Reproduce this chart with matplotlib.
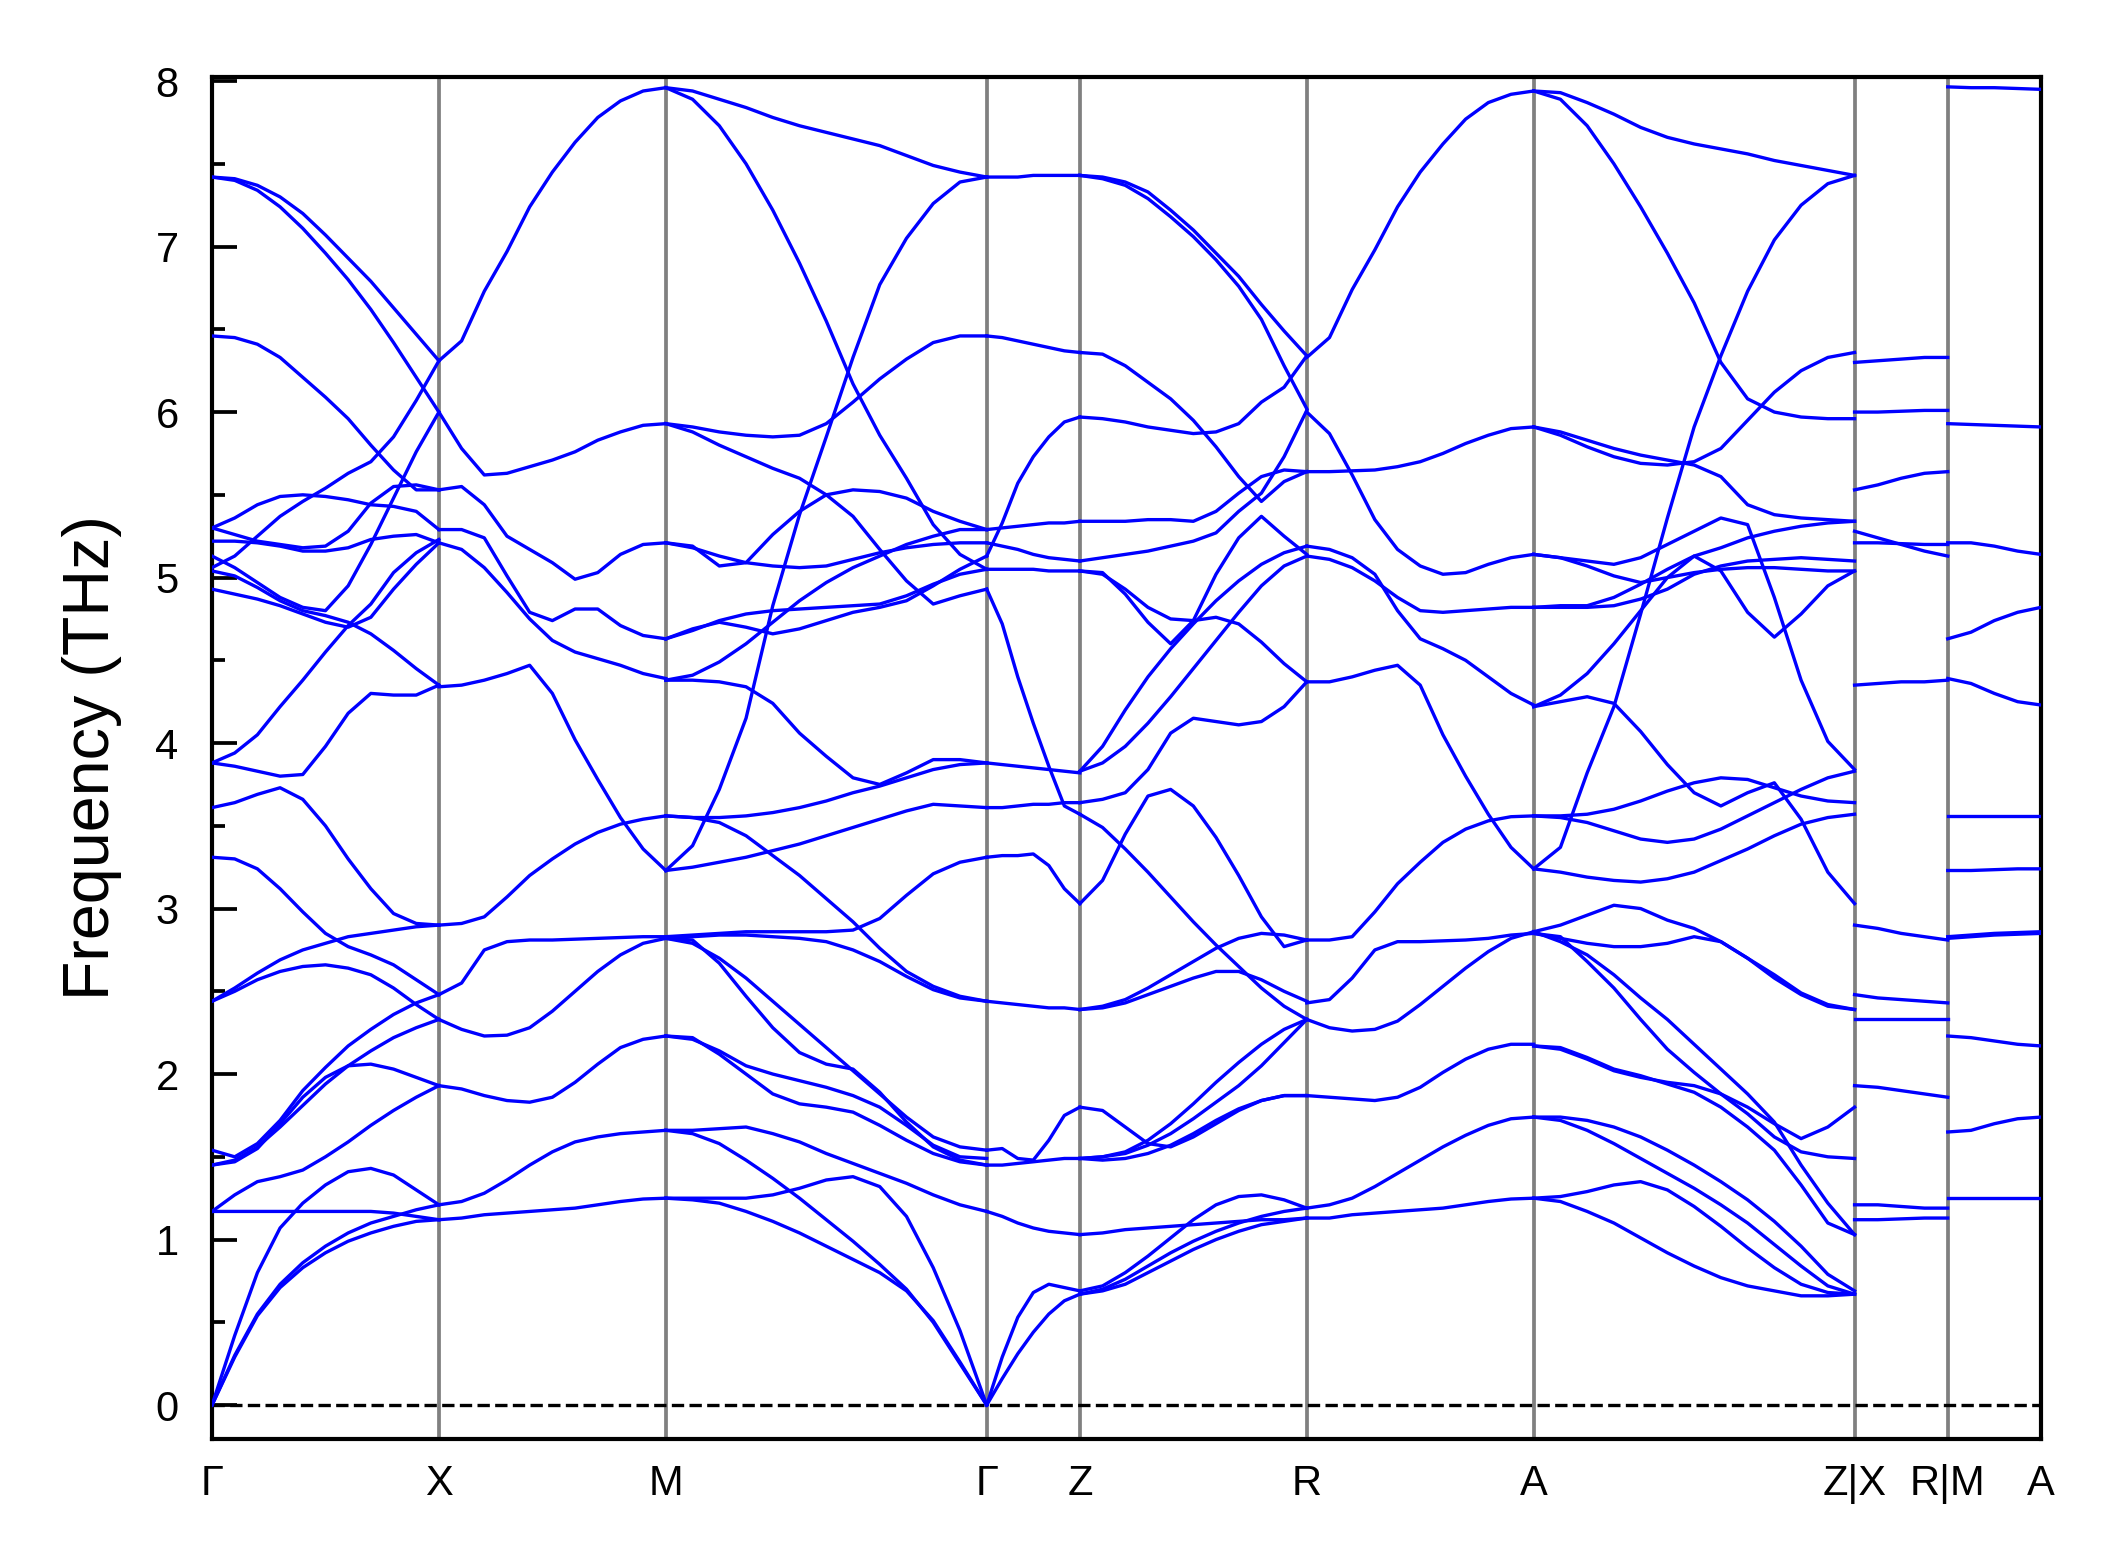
import numpy as np
import matplotlib.pyplot as plt

plt.rcParams['font.family'] = ['Liberation Sans', 'DejaVu Sans']

# high-symmetry path: labels and segment lengths (2*pi/a units)
tick_labels = ['Γ', 'X', 'M', 'Γ', 'Z', 'R', 'A', 'Z|X', 'R|M', 'A']
seg_lengths = [0.5, 0.5, 0.7071, 0.2053, 0.5, 0.5, 0.7071, 0.2053, 0.2053]

# frequencies (THz), each band sampled evenly along its segment
gx_bands = [
    [7.42, 7.41, 7.37, 7.30, 7.20, 7.07, 6.93, 6.79, 6.63, 6.47, 6.31],
    [7.42, 7.40, 7.34, 7.24, 7.11, 6.96, 6.80, 6.62, 6.42, 6.21, 6.00],
    [6.46, 6.45, 6.41, 6.33, 6.21, 6.09, 5.96, 5.80, 5.65, 5.53, 5.53],
    [5.06, 5.13, 5.25, 5.37, 5.46, 5.54, 5.63, 5.70, 5.85, 6.07, 6.31],
    [5.13, 5.06, 4.97, 4.88, 4.82, 4.80, 4.95, 5.20, 5.48, 5.76, 6.00],
    [5.30, 5.36, 5.44, 5.49, 5.50, 5.49, 5.47, 5.44, 5.43, 5.40, 5.29],
    [5.30, 5.26, 5.22, 5.20, 5.18, 5.19, 5.28, 5.45, 5.55, 5.56, 5.53],
    [5.22, 5.22, 5.21, 5.19, 5.16, 5.16, 5.18, 5.23, 5.25, 5.26, 5.21],
    [5.04, 5.01, 4.94, 4.86, 4.80, 4.77, 4.73, 4.66, 4.56, 4.45, 4.35],
    [4.93, 4.90, 4.87, 4.83, 4.78, 4.73, 4.70, 4.76, 4.93, 5.08, 5.21],
    [3.88, 3.94, 4.05, 4.22, 4.38, 4.55, 4.71, 4.84, 5.03, 5.15, 5.23],
    [3.88, 3.86, 3.83, 3.80, 3.81, 3.98, 4.18, 4.30, 4.29, 4.29, 4.35],
    [3.61, 3.64, 3.69, 3.73, 3.66, 3.50, 3.30, 3.12, 2.97, 2.91, 2.90],
    [3.31, 3.30, 3.24, 3.12, 2.98, 2.85, 2.77, 2.72, 2.66, 2.57, 2.48],
    [2.44, 2.52, 2.61, 2.69, 2.75, 2.79, 2.83, 2.85, 2.87, 2.89, 2.90],
    [2.44, 2.50, 2.57, 2.62, 2.65, 2.66, 2.64, 2.60, 2.52, 2.42, 2.33],
    [1.54, 1.50, 1.58, 1.72, 1.90, 2.04, 2.17, 2.27, 2.36, 2.43, 2.48],
    [1.45, 1.47, 1.55, 1.70, 1.86, 1.98, 2.05, 2.06, 2.03, 1.98, 1.93],
    [1.45, 1.48, 1.56, 1.68, 1.81, 1.94, 2.05, 2.14, 2.22, 2.28, 2.33],
    [1.17, 1.27, 1.35, 1.38, 1.42, 1.50, 1.59, 1.69, 1.78, 1.86, 1.93],
    [0.00, 0.42, 0.80, 1.07, 1.22, 1.33, 1.41, 1.43, 1.39, 1.30, 1.21],
    [1.17, 1.17, 1.17, 1.17, 1.17, 1.17, 1.17, 1.17, 1.16, 1.14, 1.12],
    [0.00, 0.30, 0.55, 0.73, 0.86, 0.96, 1.04, 1.10, 1.14, 1.18, 1.21],
    [0.00, 0.29, 0.54, 0.71, 0.83, 0.92, 0.99, 1.04, 1.08, 1.11, 1.12],
]

xm_bands = [
    [6.31, 6.43, 6.73, 6.97, 7.24, 7.45, 7.63, 7.78, 7.88, 7.94, 7.96],
    [6.00, 5.78, 5.62, 5.63, 5.67, 5.71, 5.76, 5.83, 5.88, 5.92, 5.93],
    [5.53, 5.55, 5.44, 5.25, 5.17, 5.09, 4.99, 5.03, 5.14, 5.20, 5.21],
    [5.29, 5.29, 5.24, 5.01, 4.79, 4.74, 4.81, 4.81, 4.71, 4.65, 4.63],
    [5.21, 5.17, 5.06, 4.91, 4.75, 4.62, 4.55, 4.51, 4.47, 4.42, 4.39],
    [4.34, 4.35, 4.38, 4.42, 4.47, 4.30, 4.02, 3.78, 3.55, 3.36, 3.23],
    [2.90, 2.91, 2.95, 3.07, 3.20, 3.30, 3.39, 3.46, 3.51, 3.54, 3.56],
    [2.48, 2.55, 2.75, 2.80, 2.81, 2.81, 2.815, 2.82, 2.825, 2.83, 2.83],
    [2.33, 2.27, 2.23, 2.235, 2.28, 2.38, 2.50, 2.62, 2.72, 2.79, 2.82],
    [1.93, 1.91, 1.87, 1.84, 1.83, 1.86, 1.95, 2.06, 2.16, 2.21, 2.23],
    [1.21, 1.23, 1.28, 1.36, 1.45, 1.53, 1.59, 1.62, 1.64, 1.65, 1.66],
    [1.12, 1.13, 1.15, 1.16, 1.17, 1.18, 1.19, 1.21, 1.23, 1.245, 1.25],
]

mg_bands = [
    [7.96, 7.94, 7.89, 7.84, 7.78, 7.73, 7.69, 7.65, 7.61, 7.55, 7.49, 7.45, 7.42],
    [7.96, 7.89, 7.73, 7.50, 7.22, 6.90, 6.55, 6.17, 5.86, 5.60, 5.32, 5.14, 5.05],
    [3.23, 3.38, 3.72, 4.15, 4.83, 5.38, 5.85, 6.33, 6.77, 7.05, 7.26, 7.39, 7.42],
    [5.93, 5.91, 5.88, 5.86, 5.85, 5.86, 5.93, 6.06, 6.20, 6.32, 6.42, 6.46, 6.46],
    [5.93, 5.88, 5.80, 5.73, 5.66, 5.60, 5.50, 5.37, 5.17, 4.98, 4.84, 4.89, 4.93],
    [5.21, 5.19, 5.07, 5.09, 5.26, 5.40, 5.50, 5.53, 5.52, 5.48, 5.40, 5.34, 5.29],
    [5.21, 5.18, 5.13, 5.09, 5.07, 5.06, 5.07, 5.11, 5.15, 5.18, 5.20, 5.21, 5.21],
    [4.38, 4.41, 4.49, 4.60, 4.73, 4.86, 4.97, 5.06, 5.13, 5.20, 5.25, 5.29, 5.29],
    [4.63, 4.69, 4.73, 4.70, 4.66, 4.69, 4.74, 4.79, 4.82, 4.86, 4.95, 5.05, 5.13],
    [4.63, 4.68, 4.74, 4.78, 4.80, 4.81, 4.82, 4.83, 4.84, 4.89, 4.96, 5.02, 5.05],
    [4.38, 4.38, 4.37, 4.34, 4.24, 4.06, 3.92, 3.79, 3.75, 3.82, 3.90, 3.90, 3.88],
    [3.56, 3.55, 3.55, 3.56, 3.58, 3.61, 3.65, 3.70, 3.74, 3.79, 3.84, 3.87, 3.88],
    [3.23, 3.25, 3.28, 3.31, 3.35, 3.39, 3.44, 3.49, 3.54, 3.59, 3.63, 3.62, 3.61],
    [3.56, 3.55, 3.52, 3.44, 3.32, 3.20, 3.06, 2.92, 2.76, 2.62, 2.53, 2.47, 2.44],
    [2.83, 2.84, 2.85, 2.86, 2.86, 2.86, 2.86, 2.87, 2.94, 3.08, 3.21, 3.28, 3.31],
    [2.82, 2.83, 2.84, 2.84, 2.83, 2.82, 2.80, 2.75, 2.68, 2.59, 2.51, 2.46, 2.44],
    [2.82, 2.81, 2.67, 2.47, 2.28, 2.13, 2.06, 2.03, 1.89, 1.71, 1.56, 1.48, 1.45],
    [2.82, 2.79, 2.70, 2.58, 2.44, 2.30, 2.16, 2.02, 1.88, 1.74, 1.62, 1.56, 1.54],
    [2.23, 2.22, 2.12, 2.00, 1.88, 1.82, 1.80, 1.77, 1.69, 1.60, 1.52, 1.47, 1.45],
    [2.23, 2.21, 2.14, 2.05, 2.00, 1.96, 1.92, 1.87, 1.80, 1.69, 1.57, 1.50, 1.49],
    [1.66, 1.66, 1.67, 1.68, 1.64, 1.59, 1.52, 1.46, 1.40, 1.34, 1.27, 1.21, 1.17],
    [1.66, 1.64, 1.58, 1.48, 1.37, 1.25, 1.12, 0.99, 0.85, 0.70, 0.50, 0.25, 0.00],
    [1.25, 1.25, 1.25, 1.25, 1.27, 1.31, 1.36, 1.38, 1.32, 1.14, 0.83, 0.45, 0.00],
    [1.25, 1.24, 1.22, 1.17, 1.11, 1.04, 0.96, 0.88, 0.80, 0.69, 0.51, 0.26, 0.00],
]

gz_bands = [
    [7.42, 7.42, 7.42, 7.43, 7.43, 7.43, 7.43],
    [6.46, 6.45, 6.43, 6.41, 6.39, 6.37, 6.36],
    [5.13, 5.33, 5.57, 5.73, 5.85, 5.94, 5.97],
    [5.29, 5.30, 5.31, 5.32, 5.33, 5.33, 5.34],
    [5.21, 5.19, 5.17, 5.14, 5.12, 5.11, 5.10],
    [5.05, 5.05, 5.05, 5.05, 5.04, 5.04, 5.04],
    [4.93, 4.72, 4.40, 4.12, 3.86, 3.62, 3.57],
    [3.88, 3.87, 3.86, 3.85, 3.84, 3.83, 3.82],
    [3.61, 3.61, 3.62, 3.63, 3.63, 3.64, 3.64],
    [3.31, 3.32, 3.32, 3.33, 3.26, 3.12, 3.03],
    [2.44, 2.43, 2.42, 2.41, 2.40, 2.40, 2.39],
    [1.54, 1.55, 1.49, 1.48, 1.60, 1.75, 1.80],
    [1.45, 1.45, 1.46, 1.47, 1.48, 1.49, 1.49],
    [1.17, 1.14, 1.10, 1.07, 1.05, 1.04, 1.03],
    [0.00, 0.29, 0.53, 0.68, 0.73, 0.71, 0.69],
    [0.00, 0.16, 0.31, 0.44, 0.55, 0.63, 0.67],
]

zr_bands = [
    [7.43, 7.42, 7.39, 7.33, 7.22, 7.10, 6.96, 6.82, 6.65, 6.49, 6.34],
    [7.43, 7.41, 7.37, 7.29, 7.18, 7.06, 6.92, 6.76, 6.56, 6.28, 6.02],
    [6.36, 6.35, 6.28, 6.18, 6.08, 5.95, 5.79, 5.61, 5.46, 5.58, 5.64],
    [5.97, 5.96, 5.94, 5.91, 5.89, 5.87, 5.88, 5.93, 6.06, 6.15, 6.34],
    [5.34, 5.34, 5.34, 5.35, 5.35, 5.34, 5.40, 5.51, 5.61, 5.65, 5.64],
    [5.04, 5.03, 4.90, 4.73, 4.60, 4.74, 5.02, 5.24, 5.37, 5.25, 5.14],
    [5.04, 5.02, 4.93, 4.82, 4.75, 4.74, 4.76, 4.72, 4.61, 4.48, 4.37],
    [5.10, 5.12, 5.14, 5.16, 5.19, 5.22, 5.27, 5.40, 5.51, 5.73, 6.01],
    [3.83, 3.98, 4.20, 4.40, 4.57, 4.72, 4.86, 4.98, 5.08, 5.15, 5.19],
    [3.83, 3.88, 3.98, 4.12, 4.28, 4.45, 4.62, 4.79, 4.95, 5.07, 5.13],
    [3.64, 3.66, 3.70, 3.84, 4.06, 4.15, 4.13, 4.11, 4.13, 4.22, 4.37],
    [3.03, 3.17, 3.45, 3.68, 3.72, 3.62, 3.43, 3.20, 2.95, 2.77, 2.81],
    [3.57, 3.49, 3.36, 3.22, 3.07, 2.92, 2.78, 2.65, 2.52, 2.41, 2.33],
    [2.39, 2.40, 2.43, 2.48, 2.53, 2.58, 2.62, 2.62, 2.57, 2.50, 2.44],
    [2.39, 2.41, 2.45, 2.52, 2.60, 2.68, 2.76, 2.82, 2.85, 2.84, 2.81],
    [1.80, 1.78, 1.68, 1.58, 1.56, 1.62, 1.70, 1.78, 1.84, 1.87, 1.87],
    [1.49, 1.50, 1.53, 1.60, 1.70, 1.82, 1.95, 2.07, 2.18, 2.27, 2.33],
    [1.49, 1.50, 1.52, 1.57, 1.64, 1.73, 1.83, 1.93, 2.05, 2.19, 2.33],
    [1.49, 1.48, 1.49, 1.52, 1.57, 1.64, 1.72, 1.79, 1.84, 1.87, 1.87],
    [1.03, 1.04, 1.06, 1.07, 1.08, 1.09, 1.10, 1.11, 1.12, 1.12, 1.13],
    [0.69, 0.72, 0.80, 0.90, 1.01, 1.12, 1.21, 1.26, 1.27, 1.24, 1.19],
    [0.67, 0.69, 0.73, 0.80, 0.87, 0.94, 1.00, 1.05, 1.09, 1.11, 1.13],
    [0.67, 0.70, 0.76, 0.84, 0.92, 0.99, 1.05, 1.10, 1.14, 1.17, 1.19],
]

ra_bands = [
    [6.33, 6.45, 6.74, 6.98, 7.24, 7.45, 7.62, 7.77, 7.87, 7.92, 7.94],
    [6.00, 5.87, 5.62, 5.35, 5.17, 5.07, 5.02, 5.03, 5.08, 5.12, 5.14],
    [5.64, 5.64, 5.645, 5.65, 5.67, 5.70, 5.75, 5.81, 5.86, 5.90, 5.91],
    [5.19, 5.17, 5.12, 5.02, 4.80, 4.63, 4.57, 4.50, 4.40, 4.30, 4.23],
    [5.13, 5.11, 5.06, 4.98, 4.88, 4.80, 4.79, 4.80, 4.81, 4.82, 4.82],
    [4.37, 4.37, 4.40, 4.44, 4.47, 4.35, 4.05, 3.80, 3.57, 3.37, 3.24],
    [2.81, 2.81, 2.83, 2.98, 3.15, 3.28, 3.40, 3.48, 3.53, 3.555, 3.56],
    [2.43, 2.45, 2.58, 2.75, 2.80, 2.80, 2.805, 2.81, 2.82, 2.84, 2.85],
    [2.33, 2.28, 2.26, 2.27, 2.32, 2.42, 2.53, 2.64, 2.74, 2.82, 2.86],
    [1.87, 1.86, 1.85, 1.84, 1.86, 1.92, 2.01, 2.09, 2.15, 2.18, 2.18],
    [1.19, 1.21, 1.25, 1.32, 1.40, 1.48, 1.56, 1.63, 1.69, 1.73, 1.74],
    [1.13, 1.13, 1.15, 1.16, 1.17, 1.18, 1.19, 1.21, 1.23, 1.245, 1.25],
]

az_bands = [
    [7.94, 7.93, 7.87, 7.80, 7.72, 7.66, 7.62, 7.59, 7.56, 7.52, 7.49, 7.46, 7.43],
    [7.94, 7.89, 7.73, 7.50, 7.24, 6.96, 6.66, 6.30, 6.08, 6.00, 5.97, 5.96, 5.96],
    [3.24, 3.37, 3.82, 4.22, 4.78, 5.36, 5.91, 6.34, 6.73, 7.04, 7.25, 7.38, 7.43],
    [5.91, 5.86, 5.79, 5.73, 5.69, 5.68, 5.70, 5.78, 5.95, 6.12, 6.25, 6.33, 6.36],
    [5.91, 5.88, 5.83, 5.78, 5.74, 5.71, 5.68, 5.61, 5.44, 5.38, 5.36, 5.35, 5.34],
    [5.14, 5.12, 5.10, 5.08, 5.12, 5.20, 5.28, 5.36, 5.32, 4.88, 4.38, 4.01, 3.84],
    [5.14, 5.12, 5.07, 5.01, 4.97, 5.00, 5.03, 5.05, 5.06, 5.06, 5.05, 5.04, 5.04],
    [4.82, 4.83, 4.83, 4.88, 4.96, 5.05, 5.13, 5.18, 5.24, 5.28, 5.31, 5.33, 5.34],
    [4.82, 4.82, 4.82, 4.83, 4.87, 4.93, 5.02, 5.07, 5.10, 5.11, 5.12, 5.11, 5.10],
    [4.22, 4.29, 4.42, 4.60, 4.80, 5.00, 5.13, 5.04, 4.79, 4.64, 4.78, 4.95, 5.04],
    [4.22, 4.25, 4.28, 4.24, 4.07, 3.87, 3.70, 3.62, 3.70, 3.76, 3.54, 3.22, 3.03],
    [3.56, 3.55, 3.52, 3.47, 3.42, 3.40, 3.42, 3.48, 3.56, 3.64, 3.72, 3.79, 3.83],
    [3.56, 3.56, 3.57, 3.60, 3.65, 3.71, 3.76, 3.79, 3.78, 3.73, 3.68, 3.65, 3.64],
    [3.24, 3.22, 3.19, 3.17, 3.16, 3.18, 3.22, 3.29, 3.36, 3.44, 3.51, 3.55, 3.57],
    [2.86, 2.90, 2.96, 3.02, 3.00, 2.93, 2.88, 2.80, 2.70, 2.60, 2.49, 2.42, 2.39],
    [2.85, 2.82, 2.79, 2.77, 2.77, 2.79, 2.83, 2.80, 2.70, 2.58, 2.48, 2.41, 2.39],
    [2.86, 2.80, 2.72, 2.60, 2.46, 2.33, 2.18, 2.03, 1.88, 1.71, 1.45, 1.22, 1.03],
    [2.85, 2.83, 2.68, 2.52, 2.33, 2.15, 2.01, 1.88, 1.76, 1.62, 1.53, 1.50, 1.49],
    [2.17, 2.16, 2.10, 2.03, 1.99, 1.94, 1.89, 1.80, 1.68, 1.54, 1.33, 1.10, 1.03],
    [2.17, 2.15, 2.09, 2.02, 1.98, 1.95, 1.93, 1.88, 1.80, 1.70, 1.61, 1.68, 1.80],
    [1.74, 1.74, 1.72, 1.68, 1.62, 1.54, 1.45, 1.35, 1.24, 1.11, 0.96, 0.79, 0.69],
    [1.74, 1.72, 1.66, 1.58, 1.49, 1.40, 1.31, 1.21, 1.10, 0.97, 0.84, 0.72, 0.67],
    [1.25, 1.26, 1.29, 1.33, 1.35, 1.30, 1.20, 1.08, 0.95, 0.83, 0.73, 0.68, 0.67],
    [1.25, 1.23, 1.17, 1.10, 1.01, 0.92, 0.84, 0.77, 0.72, 0.69, 0.66, 0.66, 0.67],
]

xr_bands = [
    [6.30, 6.31, 6.32, 6.33, 6.33],
    [6.00, 6.00, 6.005, 6.01, 6.01],
    [5.53, 5.56, 5.60, 5.63, 5.64],
    [5.28, 5.24, 5.20, 5.16, 5.13],
    [5.21, 5.21, 5.205, 5.20, 5.20],
    [4.35, 4.36, 4.37, 4.37, 4.38],
    [2.90, 2.88, 2.85, 2.83, 2.81],
    [2.48, 2.46, 2.45, 2.44, 2.43],
    [2.33, 2.33, 2.33, 2.33, 2.33],
    [1.93, 1.92, 1.90, 1.88, 1.86],
    [1.21, 1.21, 1.20, 1.19, 1.19],
    [1.12, 1.12, 1.125, 1.13, 1.13],
]

ma_bands = [
    [7.965, 7.96, 7.96, 7.955, 7.95],
    [5.93, 5.925, 5.92, 5.915, 5.91],
    [5.21, 5.21, 5.19, 5.16, 5.14],
    [4.63, 4.67, 4.74, 4.79, 4.82],
    [4.39, 4.36, 4.30, 4.25, 4.23],
    [3.56, 3.56, 3.56, 3.56, 3.56],
    [3.23, 3.23, 3.235, 3.24, 3.24],
    [2.83, 2.84, 2.85, 2.855, 2.86],
    [2.82, 2.83, 2.84, 2.845, 2.85],
    [2.23, 2.22, 2.20, 2.18, 2.17],
    [1.65, 1.66, 1.70, 1.73, 1.74],
    [1.25, 1.25, 1.25, 1.25, 1.25],
]

segments = [gx_bands, xm_bands, mg_bands, gz_bands, zr_bands,
            ra_bands, az_bands, xr_bands, ma_bands]

ticks = np.concatenate([[0], np.cumsum(seg_lengths)])

fig = plt.figure(figsize=(2118 / 300, 1567 / 300), dpi=300)
ax = fig.add_axes([0.1001, 0.0819, 0.8635, 0.8689])

for start, length, bands in zip(ticks[:-1], seg_lengths, segments):
    for band in bands:
        x = start + np.linspace(0, length, len(band))
        ax.plot(x, band, color='#0000ff', lw=0.8, zorder=3,
                solid_joinstyle='round')

for t in ticks[1:-1]:
    ax.axvline(t, color='#808080', lw=0.9, zorder=1)
ax.axhline(0, color='black', ls='--', lw=0.8, zorder=2)

ax.set_xlim(ticks[0], ticks[-1])
ax.set_ylim(-0.203, 8.024)
ax.set_xticks(ticks)
ax.set_xticklabels(tick_labels)
ax.tick_params(axis='x', length=0, pad=6, labelsize=10)
ax.set_yticks(range(9))
ax.set_yticks(np.arange(0.5, 8, 1.0), minor=True)
ax.tick_params(axis='y', which='major', direction='in', length=6, width=0.9,
               labelsize=10, pad=8)
ax.tick_params(axis='y', which='minor', direction='in', length=3, width=0.9)
ax.set_ylabel('Frequency (THz)', fontsize=15.5, labelpad=8)
for s in ax.spines.values():
    s.set_linewidth(1.0)

fig.savefig('out.png', dpi=300)
